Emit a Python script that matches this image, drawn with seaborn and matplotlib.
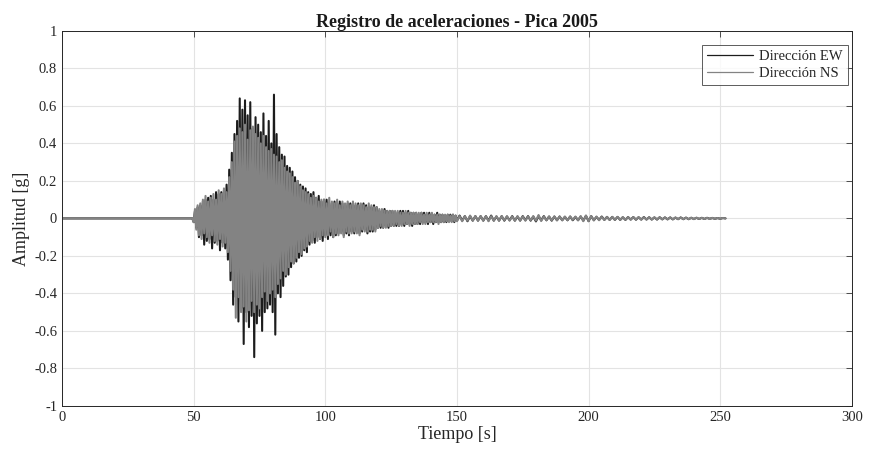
import numpy as np
import pandas as pd
import matplotlib
matplotlib.use("Agg")
import matplotlib.pyplot as plt
import seaborn as sns

# Sampling grid of the record (s): quiet pre-event, strong motion, coda, tail
t_pre = [0.0]
t_strong = np.arange(49.5, 100.0, 0.5)
t_coda = np.arange(100.0, 150.0, 0.5)
t_tail = np.arange(150.0, 252.5, 1.0)

# Dirección EW (g)
ew_pre = [0.0]
ew_strong = [
    0.00, -0.02, 0.04, -0.05, 0.06, -0.10, 0.07, -0.09, 0.09, -0.14,
    0.10, -0.12, 0.11, -0.11, 0.12, -0.16, 0.10, -0.13, 0.14, -0.12,
    0.13, -0.17, 0.14, -0.13, 0.15, -0.16, 0.18, -0.22, 0.26, -0.33,
    0.35, -0.46, 0.45, -0.42, 0.52, -0.55, 0.64, -0.48, 0.58, -0.67,
    0.63, -0.50, 0.55, -0.58, 0.62, -0.52, 0.48, -0.74, 0.54, -0.56,
    0.50, -0.52, 0.46, -0.60, 0.56, -0.50, 0.44, -0.48, 0.52, -0.46,
    0.40, -0.50, 0.66, -0.62, 0.45, -0.40, 0.38, -0.42, 0.34, -0.36,
    0.33, -0.31, 0.28, -0.30, 0.27, -0.26, 0.25, -0.24, 0.22, -0.23,
    0.20, -0.21, 0.18, -0.20, 0.17, -0.17, 0.16, -0.18, 0.14, -0.14,
    0.13, -0.12, 0.14, -0.13, 0.11, -0.10, 0.12, -0.11, 0.09, -0.12,
    0.10,
]
ew_coda = [
    -0.09, 0.10, -0.11, 0.08, -0.09, 0.07, -0.10, 0.09, -0.09, 0.08,
    -0.08, 0.09, -0.07, 0.08, -0.09, 0.07, -0.08, 0.08, -0.09, 0.08,
    -0.07, 0.08, -0.08, 0.07, -0.07, 0.08, -0.08, 0.07, -0.07, 0.08,
    -0.06, 0.07, -0.08, 0.06, -0.07, 0.06, -0.07, 0.07, -0.06, 0.06,
    -0.05, 0.04, -0.05, 0.04, -0.05, 0.05, -0.04, 0.04, -0.05, 0.04,
    -0.04, 0.04, -0.04, 0.03, -0.04, 0.03, -0.04, 0.04, -0.03, 0.04,
    -0.04, 0.03, -0.03, 0.04, -0.03, 0.03, -0.04, 0.03, -0.03, 0.03,
    -0.03, 0.02, -0.03, 0.03, -0.02, 0.03, -0.02, 0.02, -0.03, 0.03,
    -0.02, 0.02, -0.03, 0.02, -0.02, 0.03, -0.02, 0.02, -0.02, 0.02,
    -0.02, 0.015, -0.02, 0.02, -0.015, 0.02, -0.015, 0.02, -0.02, 0.015,
]
ew_tail = [
    -0.012, 0.015, -0.012, 0.012, -0.015, 0.012, -0.012, 0.012, -0.012, 0.012,
    -0.012, 0.012, -0.012, 0.015, -0.012, 0.010, -0.012, 0.012, -0.012, 0.010,
    -0.010, 0.012, -0.012, 0.010, -0.012, 0.012, -0.010, 0.012, -0.012, 0.010,
    -0.016, 0.012, -0.010, 0.012, -0.010, 0.010, -0.012, 0.010, -0.010, 0.010,
    -0.010, 0.008, -0.010, 0.010, -0.010, 0.008, -0.010, 0.010, -0.012, 0.014,
    -0.015, 0.012, -0.010, 0.008, -0.008, 0.010, -0.008, 0.008, -0.008, 0.008,
    -0.008, 0.008, -0.008, 0.006, -0.008, 0.007, -0.006, 0.007, -0.007, 0.006,
    -0.006, 0.007, -0.006, 0.006, -0.006, 0.005, -0.006, 0.006, -0.005, 0.005,
    -0.005, 0.005, -0.005, 0.004, -0.004, 0.005, -0.004, 0.004, -0.004, 0.003,
    -0.003, 0.003, -0.003, 0.003, -0.003, 0.003, -0.002, 0.002, -0.002, 0.002,
    -0.002, 0.002, 0.0,
]

# Dirección NS (g)
ns_pre = [0.0]
ns_strong = [
    0.00, -0.02, 0.05, -0.06, 0.07, -0.09, 0.08, -0.11, 0.10, -0.08,
    0.12, -0.10, 0.09, -0.13, 0.11, -0.09, 0.13, -0.12, 0.10, -0.14,
    0.15, -0.11, 0.13, -0.15, 0.16, -0.13, 0.14, -0.18, 0.22, -0.28,
    0.30, -0.38, 0.41, -0.53, 0.44, -0.42, 0.48, -0.50, 0.46, -0.47,
    0.50, -0.55, 0.42, -0.49, 0.47, -0.44, 0.49, -0.50, 0.45, -0.46,
    0.43, -0.48, 0.40, -0.42, 0.44, -0.39, 0.38, -0.44, 0.36, -0.40,
    0.37, -0.38, 0.34, -0.42, 0.33, -0.35, 0.30, -0.32, 0.31, -0.28,
    0.27, -0.30, 0.25, -0.26, 0.24, -0.23, 0.22, -0.24, 0.19, -0.21,
    0.20, -0.18, 0.17, -0.19, 0.15, -0.16, 0.14, -0.15, 0.13, -0.12,
    0.11, -0.13, 0.12, -0.10, 0.11, -0.12, 0.09, -0.11, 0.10, -0.09,
    0.10,
]
ns_coda = [
    -0.10, 0.08, -0.09, 0.11, -0.07, 0.09, -0.10, 0.08, -0.08, 0.10,
    -0.09, 0.07, -0.08, 0.09, -0.10, 0.08, -0.07, 0.09, -0.08, 0.07,
    -0.08, 0.09, -0.07, 0.08, -0.08, 0.07, -0.09, 0.08, -0.06, 0.07,
    -0.07, 0.06, -0.07, 0.08, -0.06, 0.07, -0.06, 0.06, -0.07, 0.06,
    -0.05, 0.05, -0.04, 0.05, -0.05, 0.04, -0.05, 0.04, -0.04, 0.04,
    -0.04, 0.04, -0.04, 0.04, -0.03, 0.04, -0.04, 0.03, -0.04, 0.03,
    -0.03, 0.04, -0.03, 0.03, -0.04, 0.03, -0.03, 0.03, -0.03, 0.03,
    -0.03, 0.03, -0.02, 0.03, -0.03, 0.02, -0.03, 0.03, -0.02, 0.02,
    -0.02, 0.03, -0.02, 0.02, -0.02, 0.02, -0.03, 0.02, -0.02, 0.02,
    -0.02, 0.02, -0.015, 0.02, -0.02, 0.015, -0.02, 0.02, -0.015, 0.015,
]
ns_tail = [
    -0.015, 0.012, -0.015, 0.012, -0.012, 0.015, -0.012, 0.012, -0.012, 0.012,
    -0.012, 0.012, -0.015, 0.012, -0.012, 0.012, -0.012, 0.012, -0.010, 0.012,
    -0.012, 0.010, -0.012, 0.012, -0.010, 0.010, -0.012, 0.010, -0.010, 0.012,
    -0.012, 0.018, -0.014, 0.010, -0.010, 0.010, -0.010, 0.010, -0.010, 0.010,
    -0.010, 0.010, -0.010, 0.010, -0.008, 0.010, -0.010, 0.012, -0.015, 0.015,
    -0.014, 0.012, -0.010, 0.010, -0.010, 0.008, -0.008, 0.008, -0.008, 0.008,
    -0.008, 0.008, -0.008, 0.007, -0.007, 0.007, -0.007, 0.007, -0.007, 0.007,
    -0.007, 0.006, -0.006, 0.006, -0.006, 0.006, -0.006, 0.006, -0.005, 0.005,
    -0.005, 0.005, -0.005, 0.005, -0.004, 0.004, -0.004, 0.004, -0.004, 0.004,
    -0.004, 0.004, -0.003, 0.003, -0.003, 0.003, -0.003, 0.003, -0.002, 0.002,
    -0.002, 0.002, 0.0,
]

x_ticks = [0, 50, 100, 150, 200, 250, 300]
y_ticks = [-1, -0.8, -0.6, -0.4, -0.2, 0, 0.2, 0.4, 0.6, 0.8, 1]

time = np.concatenate([t_pre, t_strong, t_coda, t_tail])
ew = np.concatenate([ew_pre, ew_strong, ew_coda, ew_tail])
ns = np.concatenate([ns_pre, ns_strong, ns_coda, ns_tail])

df = pd.DataFrame({"t": time, "EW": ew, "NS": ns})

sns.set_style("white")
plt.rcParams["font.family"] = ["Liberation Serif", "DejaVu Serif"]
plt.rcParams["axes.unicode_minus"] = False

fig = plt.figure(figsize=(8.8, 4.55), dpi=100)
ax = fig.add_axes([0.0705, 0.108, 0.8975, 0.824])

sns.lineplot(data=df, x="t", y="EW", ax=ax, color="#1c1c1c", lw=1.5,
             sort=False, estimator=None, label="Dirección EW")
sns.lineplot(data=df, x="t", y="NS", ax=ax, color="#838383", lw=1.5,
             sort=False, estimator=None, label="Dirección NS")

ax.set_xlim(0, 300)
ax.set_ylim(-1, 1)
ax.set_xticks(x_ticks)
ax.set_yticks(y_ticks)
ax.set_xticklabels([f"{v:g}" for v in x_ticks])
ax.set_yticklabels([f"{v:g}" for v in y_ticks])
ax.grid(True, color="#e3e3e3", lw=0.8)
ax.set_axisbelow(True)
ax.tick_params(direction="in", top=True, right=True, length=4,
               width=0.6, color="#333333", labelsize=10.5, labelcolor="#262626")
for s in ax.spines.values():
    s.set_color("#262626")
    s.set_linewidth(0.7)

ax.set_title("Registro de aceleraciones - Pica 2005", fontsize=13,
             fontweight="bold", color="#1a1a1a", pad=3)
ax.set_xlabel("Tiempo [s]", fontsize=13, color="#262626", labelpad=2)
ax.set_ylabel("Amplitud [g]", fontsize=13, color="#262626", labelpad=3)

leg = ax.legend(loc="upper right", bbox_to_anchor=(0.995, 0.963),
                borderaxespad=0.0, fontsize=10.5, frameon=True, fancybox=False,
                handlelength=3.2, handletextpad=0.4, borderpad=0.35,
                labelspacing=0.25)
leg.get_frame().set_edgecolor("#333333")
leg.get_frame().set_linewidth(0.7)
for line in leg.get_lines():
    line.set_linewidth(0.9)

fig.savefig("out.png", dpi=100)
